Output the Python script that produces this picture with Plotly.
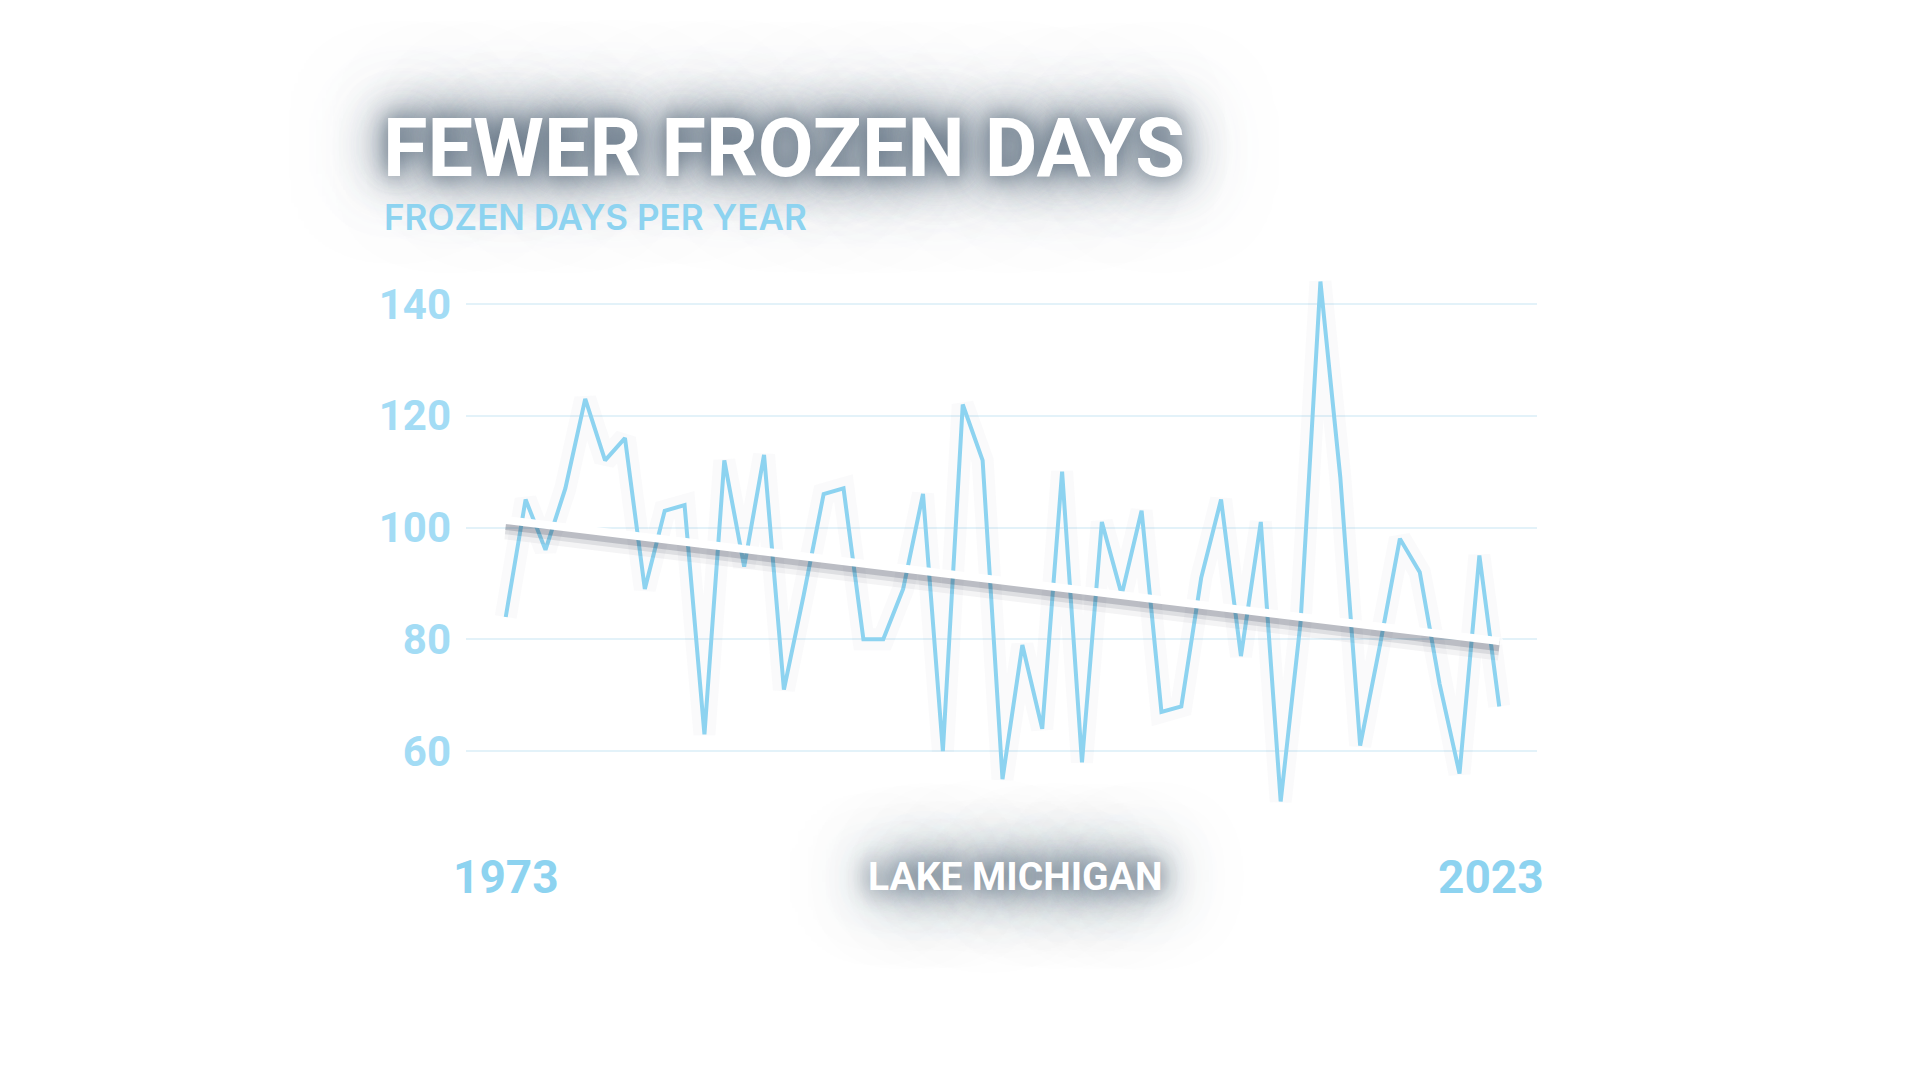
import plotly.graph_objects as go
import numpy as np

# ---------------- data ----------------
years = list(range(1973, 2024))
frozen_days = [84, 105, 96, 107, 123, 112, 116, 89, 103, 104,
               63, 112, 93, 113, 71, 88, 106, 107, 80, 80,
               89, 106, 60, 122, 112, 55, 79, 64, 110, 58,
               101, 88, 103, 67, 68, 91, 105, 77, 101, 51,
               83, 144, 109, 61, 79, 98, 92, 72, 56, 95, 68]
y_tick_vals = [60, 80, 100, 120, 140]
title_text = "FEWER FROZEN DAYS"
subtitle_text = "FROZEN DAYS PER YEAR"
lake_label = "LAKE MICHIGAN"
start_year, end_year = 1973, 2023

# linear trend from the data
slope, intercept = np.polyfit(years, frozen_days, 1)
trend = [slope * y + intercept for y in years]

# ---------------- styling ----------------
W, H = 1920, 1080
PL, PR, PT, PB = 466, 1537, 248, 835  # plot area in px
BLUE = "#8dd3f0"
TICK_BLUE = "#a3dcf5"
GRID = "#e3f2f9"
COND = "Noto Sans ExtraCondensed, Noto Sans Condensed, Roboto, sans-serif"
SANS = "Inter, Lato, Noto Sans, sans-serif"


def px_x(px):
    return (px - PL) / (PR - PL)


def px_y(py):
    return (PB - py) / (PB - PT)


fig = go.Figure()

# faint halo around the data line
fig.add_trace(go.Scatter(x=years, y=frozen_days, mode="lines",
                         line=dict(color="rgba(90,110,130,0.03)", width=22),
                         hoverinfo="skip", showlegend=False))
fig.add_trace(go.Scatter(x=years, y=frozen_days, mode="lines",
                         line=dict(color=BLUE, width=4),
                         showlegend=False))

# shadow under trend line
for off, w, a in [(1.5, 22, 0.05), (1.2, 15, 0.10), (0.9, 10, 0.18)]:
    fig.add_trace(go.Scatter(x=years, y=[t - off for t in trend], mode="lines",
                             line=dict(color=f"rgba(30,40,60,{a})", width=w),
                             hoverinfo="skip", showlegend=False))
cap_sizes = [8] + [0] * (len(years) - 2) + [8]
fig.add_trace(go.Scatter(x=years, y=trend, mode="lines+markers",
                         line=dict(color="white", width=8),
                         marker=dict(color="white", size=cap_sizes, line=dict(width=0)),
                         showlegend=False))

title_shadow = ("0px 0px 20px rgba(90,108,125,0.9), 0px 0px 40px rgba(90,108,125,0.85), "
                "0px 0px 60px rgba(90,108,125,0.75), 0px 0px 90px rgba(90,108,125,0.55)")
lake_shadow = ("0px 0px 20px rgba(90,108,125,0.95), 0px 0px 40px rgba(90,108,125,0.9), "
               "0px 0px 60px rgba(90,108,125,0.8), 0px 0px 80px rgba(90,108,125,0.55)")

annotations = [
    dict(text=title_text, xref="paper", yref="paper", x=px_x(381), y=px_y(148),
         xanchor="left", yanchor="middle", showarrow=False,
         font=dict(family=COND, size=81, color="white", weight="bold", shadow=title_shadow)),
    dict(text=subtitle_text, xref="paper", yref="paper", x=px_x(382), y=px_y(217),
         xanchor="left", yanchor="middle", showarrow=False,
         font=dict(family=SANS, size=35, color=BLUE, weight=600)),
    dict(text=str(start_year), xref="x", yref="paper", x=start_year, y=px_y(877),
         xanchor="center", yanchor="middle", showarrow=False,
         font=dict(family=COND, size=46, color=BLUE, weight="bold")),
    dict(text=str(end_year), xref="x", yref="paper", x=end_year, y=px_y(877),
         xanchor="center", yanchor="middle", showarrow=False, xshift=-8,
         font=dict(family=COND, size=46, color=BLUE, weight="bold")),
    dict(text=lake_label, xref="paper", yref="paper", x=px_x(1015), y=px_y(877),
         xanchor="center", yanchor="middle", showarrow=False,
         font=dict(family=COND, size=39, color="white", weight="bold", shadow=lake_shadow)),
]

fig.update_layout(
    width=W, height=H,
    margin=dict(l=PL, r=W - PR, t=PT, b=H - PB),
    paper_bgcolor="white", plot_bgcolor="white",
    showlegend=False,
    annotations=annotations,
    xaxis=dict(range=[1971, 2024.9], showgrid=False, zeroline=False,
               showticklabels=False, showline=False),
    yaxis=dict(range=[45, 150], tickvals=y_tick_vals, showgrid=True,
               gridcolor=GRID, gridwidth=1.5, zeroline=False, showline=False,
               ticks="", ticklabelstandoff=14,
               tickfont=dict(family=COND, size=42, color=TICK_BLUE, weight="bold")),
)

fig.write_html("out.html")
